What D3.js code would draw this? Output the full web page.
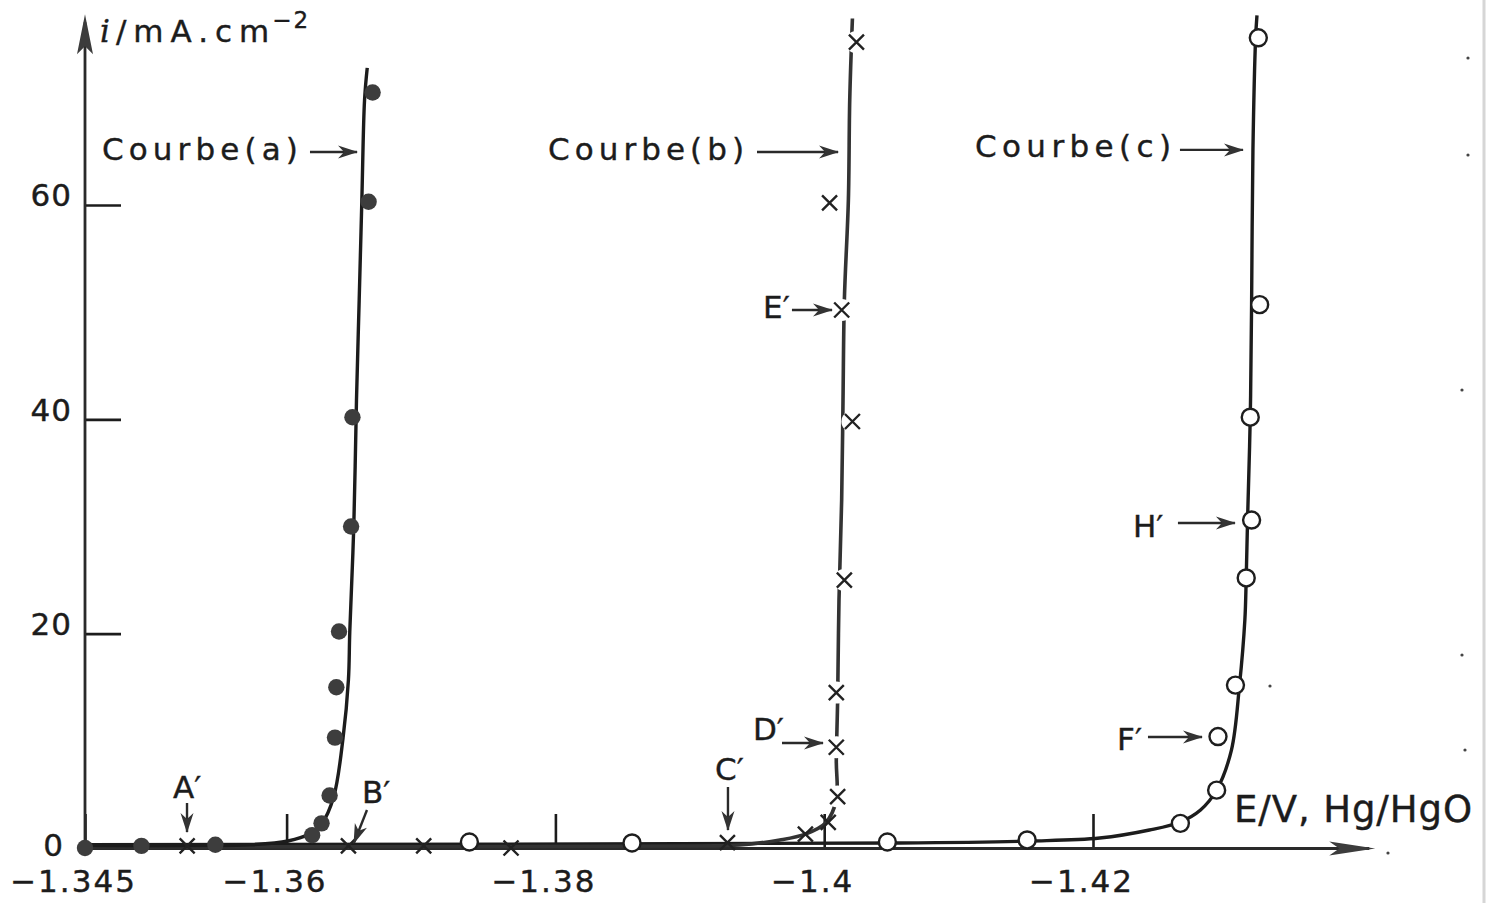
<!DOCTYPE html>
<html><head><meta charset="utf-8">
<script src="https://cdn.jsdelivr.net/npm/d3@7"></script>
<style>
body{margin:0;background:#fff}
svg{display:block}
text{font-family:"DejaVu Sans","Noto Sans",sans-serif;fill:#1c1c1c;stroke:#1c1c1c;stroke-width:0.4}
</style>
</head><body>
<svg id="chart" width="1490" height="903"></svg>
<script>
// ---------- axis ticks ----------
const xTicks = [-1.345, -1.36, -1.38, -1.4, -1.42];
const xTickLabels = ["−1.345", "−1.36", "−1.38", "−1.4", "−1.42"];
const yTicks = [0, 20, 40, 60];
const yTickLabels = ["0", "20", "40", "60"];

// ---------- Courbe (a) : measured points (filled circles) ----------
const aE = [-1.345, -1.3492, -1.3547, -1.3619, -1.3626, -1.3632, -1.3636, -1.3637, -1.3639, -1.3648, -1.3649, -1.3661, -1.3664];
const aI = [0, 0.2, 0.3, 1.2, 2.3, 4.9, 10.3, 15.0, 20.2, 30.0, 40.2, 60.3, 70.5];
// Courbe (a) : drawn curve
const aCurveE = [-1.345, -1.3536, -1.3573, -1.3601, -1.3617, -1.3626, -1.3635, -1.3642, -1.3646, -1.3647, -1.3650, -1.3652, -1.3654, -1.3656, -1.3658, -1.3660];
const aCurveI = [0.22, 0.22, 0.3, 0.65, 1.3, 2.24, 4.76, 10.26, 15.68, 20.16, 30.05, 41.8, 51.1, 60.5, 69.8, 72.8];

// ---------- Courbe (b) : measured points (crosses) ----------
const bE = [-1.3526, -1.3646, -1.3702, -1.3767, -1.3928, -1.3986, -1.4003, -1.4010, -1.4009, -1.4009, -1.4015, -1.4021, -1.4013, -1.4004, -1.4024];
const bI = [0.2, 0.2, 0.2, 0, 0.5, 1.3, 2.4, 4.8, 9.4, 14.5, 25.0, 39.8, 50.2, 60.2, 75.2];
// Courbe (b) : drawn curve
const bCurveE = [-1.345, -1.3908, -1.3937, -1.3967, -1.3986, -1.4001, -1.4009, -1.4009, -1.4010, -1.4011, -1.4013, -1.4014, -1.4015, -1.4018, -1.4019, -1.4021];
const bCurveI = [0.12, 0.19, 0.28, 0.75, 1.3, 2.33, 4.48, 8.2, 13.8, 23.1, 32.5, 41.8, 51.1, 60.5, 69.8, 77.4];

// ---------- Courbe (c) : measured points (open circles) ----------
const cE = [-1.3736, -1.3857, -1.4047, -1.4151, -1.4265, -1.4292, -1.4293, -1.4306, -1.4314, -1.4318, -1.4317, -1.4324, -1.4323];
const cI = [0.56, 0.47, 0.56, 0.75, 2.3, 5.4, 10.4, 15.2, 25.2, 30.6, 40.2, 50.7, 75.6];
// Courbe (c) : drawn curve
const cCurveE = [-1.345, -1.4056, -1.4153, -1.4205, -1.4242, -1.4265, -1.4280, -1.4292, -1.4303, -1.4309, -1.4313, -1.4314, -1.4315, -1.4317, -1.4318, -1.4319, -1.4321, -1.4322];
const cCurveI = [0.3, 0.47, 0.65, 0.93, 1.68, 2.43, 3.55, 5.41, 9.14, 15.2, 21.3, 25.2, 30.6, 40.2, 50.7, 65.1, 75.6, 77.7];

// ---------- annotations (data coordinates) ----------
const annText  = ["Courbe(a)", "Courbe(b)", "Courbe(c)", "E′", "D′", "C′", "A′", "B′", "H′", "F′"];
const annTextE = [-1.34626, -1.37945, -1.41122, -1.39545, -1.39470, -1.39188, -1.35155, -1.36561, -1.42298, -1.42179];
const annTextI = [64.20, 64.20, 64.48, 49.46, 10.08, 6.35, 4.67, 4.20, 29.02, 9.14];
const annFromE = [-1.36174, -1.39500, -1.42647, -1.39760, -1.39686, -1.39284, -1.35259, -1.36598, -1.42632, -1.42409];
const annFromI = [64.95, 64.95, 65.14, 50.20, 9.80, 5.69, 4.20, 3.55, 30.33, 10.36];
const annToE   = [-1.36524, -1.40103, -1.43116, -1.40058, -1.39991, -1.39284, -1.35259, -1.36501, -1.43056, -1.42811];
const annToI   = [64.95, 64.95, 65.14, 50.20, 9.80, 1.68, 1.49, 0.47, 30.33, 10.36];

// ---------- scales ----------
const x = d3.scaleLinear().domain([-1.345, -1.42]).range([85, 1093]);
const y = d3.scaleLinear().domain([0, 60]).range([848, 205]);
const xEnd = -1.441, yEnd = 77.8;

const svg = d3.select("#chart");
const ink = "#1c1c1c";

svg.append("defs").append("marker")
  .attr("id", "ah").attr("markerUnits", "userSpaceOnUse")
  .attr("viewBox", "-20 -8 22 16").attr("markerWidth", 22).attr("markerHeight", 16)
  .attr("refX", 0).attr("refY", 0).attr("orient", "auto")
  .append("path").attr("d", "M1,0 L-19,-6.5 L-13,0 L-19,6.5 Z").attr("fill", "#333");

// scan artefacts: faint right border
svg.append("line").attr("x1", 1484).attr("x2", 1484).attr("y1", 0).attr("y2", 903)
  .attr("stroke", "#d6d6d6").attr("stroke-width", 3);

// ---------- axes ----------
const gx = svg.append("g").attr("transform", `translate(0,${y(0)})`)
  .call(d3.axisBottom(x).tickValues(xTicks).tickSizeInner(-34).tickSizeOuter(0).tickPadding(22)
    .tickFormat((d, i) => xTickLabels[i]));
gx.select(".domain").remove();
gx.selectAll(".tick line").attr("stroke", ink).attr("stroke-width", 2.6);
gx.selectAll(".tick text").attr("font-size", 31).attr("fill", ink).attr("dx", -12)
  .attr("letter-spacing", 2).style("font-family", '"DejaVu Sans",sans-serif');

const gy = svg.append("g").attr("transform", `translate(${x(-1.345)},0)`)
  .call(d3.axisLeft(y).tickValues(yTicks).tickSizeInner(-36).tickSizeOuter(0).tickPadding(13)
    .tickFormat((d, i) => yTickLabels[i]));
gy.select(".domain").remove();
gy.selectAll(".tick line").attr("stroke", ink).attr("stroke-width", 2.6);
gy.selectAll(".tick text").attr("font-size", 31).attr("fill", ink)
  .attr("letter-spacing", 1).style("font-family", '"DejaVu Sans",sans-serif')
  .attr("transform", d => d === 0 ? "translate(-8,-2)" : "translate(0,-9)");

// axis lines
svg.append("line").attr("x1", x(-1.345)).attr("x2", x(xEnd) - 6).attr("y1", y(0) + 0.5).attr("y2", y(0) + 0.5)
  .attr("stroke", "#2a2a2a").attr("stroke-width", 2.8);
svg.append("line").attr("x1", x(-1.345)).attr("x2", x(-1.345)).attr("y1", y(0) + 2).attr("y2", y(yEnd) + 8)
  .attr("stroke", "#2a2a2a").attr("stroke-width", 2.8);
// arrow heads of axes
{
  const tx = x(xEnd), ty = y(0) + 0.5;
  svg.append("path").attr("d", `M${tx},${ty} L${tx - 46},${ty - 7} L${tx - 36},${ty} L${tx - 46},${ty + 7} Z`).attr("fill", "#3c3c3c");
  const ux = x(-1.345), uy = y(yEnd);
  svg.append("path").attr("d", `M${ux},${uy} L${ux - 8},${uy + 40} L${ux},${uy + 32} L${ux + 8},${uy + 40} Z`).attr("fill", "#3c3c3c");
}

// ---------- curves ----------
const line = d3.line().x(d => x(d[0])).y(d => y(d[1])).curve(d3.curveCatmullRom.alpha(0.5));
const zip = (a, b) => a.map((v, i) => [v, b[i]]);

svg.append("path").datum(zip(cCurveE, cCurveI)).attr("d", line)
  .attr("fill", "none").attr("stroke", ink).attr("stroke-width", 3.4);
svg.append("path").datum(zip(bCurveE, bCurveI)).attr("d", line)
  .attr("fill", "none").attr("stroke", "#333").attr("stroke-width", 3.6);
svg.append("path").datum(zip(aCurveE, aCurveI)).attr("d", line)
  .attr("fill", "none").attr("stroke", ink).attr("stroke-width", 3.4);

// ---------- markers ----------
// (b) crosses with gaps in the line
const bData = zip(bE, bI);
svg.append("g").selectAll("circle").data(bData.filter(d => d[1] >= 4)).join("circle")
  .attr("cx", d => x(d[0])).attr("cy", d => y(d[1])).attr("r", 11).attr("fill", "#fff");
svg.append("g").selectAll("path").data(bData).join("path")
  .attr("d", d => { const px = x(d[0]), py = y(d[1]), s = 7.5;
    return `M${px - s},${py - s} L${px + s},${py + s} M${px - s},${py + s} L${px + s},${py - s}`; })
  .attr("stroke", "#222").attr("stroke-width", 2.4).attr("fill", "none");

// (c) open circles
svg.append("g").selectAll("circle").data(zip(cE, cI)).join("circle")
  .attr("cx", d => x(d[0])).attr("cy", d => y(d[1])).attr("r", 8.5)
  .attr("fill", "#fff").attr("stroke", "#1e1e1e").attr("stroke-width", 2.4);

// (a) filled circles
svg.append("g").selectAll("circle").data(zip(aE, aI)).join("circle")
  .attr("cx", d => x(d[0])).attr("cy", d => y(d[1])).attr("r", 8.2)
  .attr("fill", "#3d3d3d");

// ---------- annotations ----------
annText.forEach((t, i) => {
  svg.append("line")
    .attr("x1", x(annFromE[i])).attr("y1", y(annFromI[i]))
    .attr("x2", x(annToE[i])).attr("y2", y(annToI[i]))
    .attr("stroke", "#2a2a2a").attr("stroke-width", 2.4).attr("marker-end", "url(#ah)");
  const txt = svg.append("text").attr("x", x(annTextE[i])).attr("y", y(annTextI[i]))
    .attr("font-size", 31).text(t);
  if (t.startsWith("Courbe")) txt.attr("textLength", 196).attr("lengthAdjust", "spacing");
});

// axis titles
const yt = svg.append("text").attr("x", 100).attr("y", 42).attr("font-size", 31);
yt.append("tspan").text("i").attr("font-style", "italic").style("font-family", '"DejaVu Serif",serif');
yt.append("tspan").text("/mA.cm").attr("dx", 6).attr("letter-spacing", 7);
yt.append("tspan").text("−2").attr("font-size", 23).attr("dy", -14).attr("dx", -4).attr("letter-spacing", 2);

svg.append("text").attr("x", 1234).attr("y", 822).attr("font-size", 37)
  .attr("textLength", 238).attr("lengthAdjust", "spacing").text("E/V, Hg/HgO");

// small scan specks
[[1468, 58], [1468, 155], [1462, 390], [1462, 655], [1465, 750], [1270, 686], [1388, 853]].forEach(p =>
  svg.append("circle").attr("cx", p[0]).attr("cy", p[1]).attr("r", 1.6).attr("fill", "#444"));
</script>
</body></html>
